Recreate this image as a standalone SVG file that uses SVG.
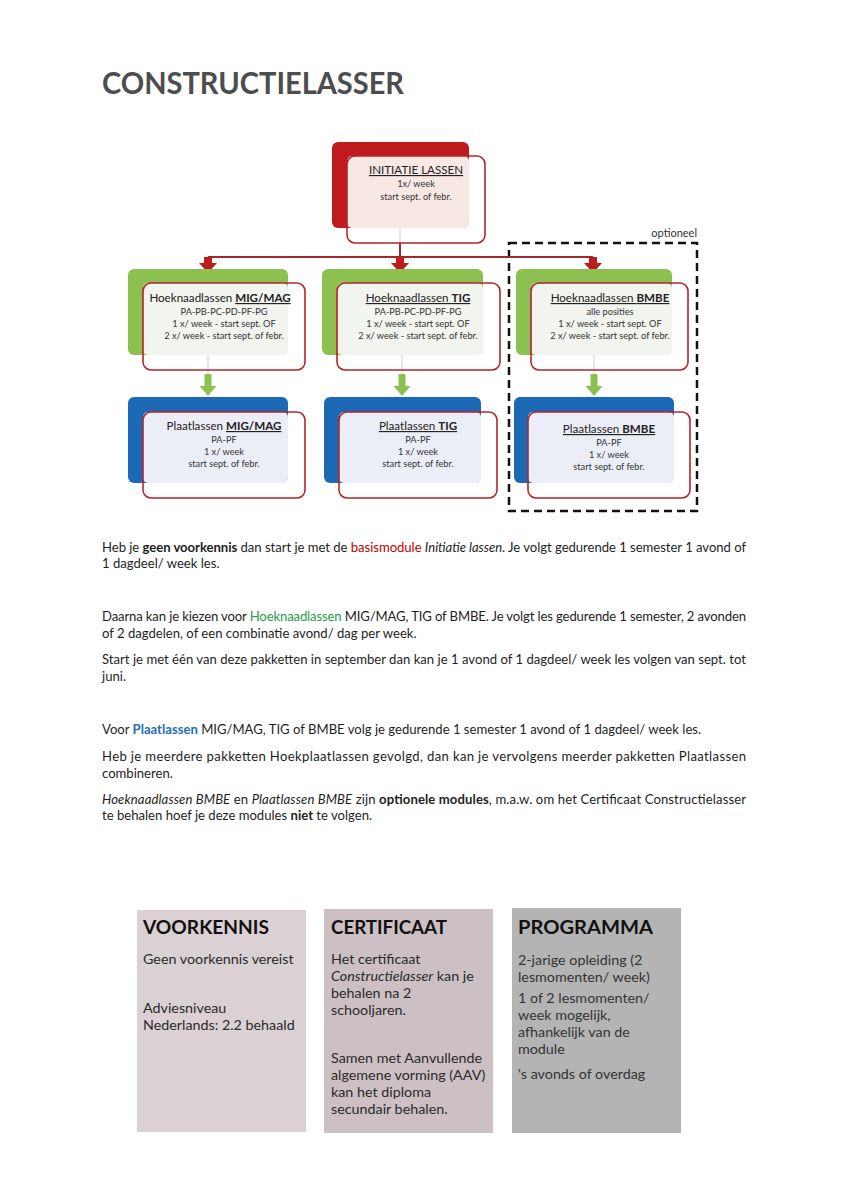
<svg xmlns="http://www.w3.org/2000/svg" width="848" height="1200" viewBox="0 0 848 1200">
<defs>
<style>
text{font-family:Lato,"Liberation Sans",sans-serif}
.title{font-size:31px;font-weight:700;fill:#4b4e4f}
.bt{font-size:11.6px;fill:#222;text-anchor:middle}
.bs{font-size:9.2px;fill:#333;text-anchor:middle}
.u{text-decoration:underline}
.b{font-weight:700}
.i{font-style:italic}
.p{font-size:13.1px;fill:#1e1e1e}
.hd{font-size:19.5px;font-weight:700;fill:#111}
.bx{font-size:14.3px;fill:#2a2a2a}
.bx3{font-size:14.3px;fill:#333}
.red{fill:#bf1b1f}
.green{fill:#8cc152}
.blue{fill:#1c68b4}
.pink{fill:#f8e8e4}
.lgreen{fill:#f2f4ef}
.lblue{fill:#eceef7}
.frame{fill:none;stroke:#b3262a;stroke-width:1.6}
.thin{stroke:#cfcfcf;stroke-width:1;fill:none}
.conn{stroke:#a3282b;stroke-width:2;fill:none}
</style>
</defs>
<rect x="0" y="0" width="848" height="1200" fill="#ffffff"/>

<text x="102" y="94" class="title" textLength="302" lengthAdjust="spacingAndGlyphs">CONSTRUCTIELASSER</text>

<g id="optioneel">
<rect x="509" y="243" width="188" height="268" fill="none" stroke="#111" stroke-width="2.5" stroke-dasharray="8 5"/>
<text x="697" y="237" font-size="11" fill="#333" text-anchor="end">optioneel</text>
</g>

<g id="connectors">
<line x1="400" y1="227" x2="400" y2="243" class="thin"/>
<line x1="400" y1="243" x2="400" y2="257" class="conn"/>
<line x1="208" y1="257" x2="593" y2="257" class="conn"/>
<path class="red" d="M204 257H212V263H217L208 273L199 263H204Z"/>
<path class="red" d="M396 257H404V263H409L400 273L391 263H396Z"/>
<path class="red" d="M589 257H597V263H602L593 273L584 263H589Z"/>
<line x1="208" y1="355" x2="208" y2="374" class="thin"/>
<line x1="402" y1="355" x2="402" y2="374" class="thin"/>
<line x1="594" y1="355" x2="594" y2="374" class="thin"/>
<path class="green" d="M204.5 374H211.5V386H216.5L208 396L199.5 386H204.5Z"/>
<path class="green" d="M398.5 374H405.5V386H410.5L402 396L393.5 386H398.5Z"/>
<path class="green" d="M590.5 374H597.5V386H602.5L594 396L585.5 386H590.5Z"/>
</g>

<g id="initiatie">
<rect x="332" y="142" width="137" height="86" rx="6" class="red"/>
<rect x="347" y="156" width="122" height="72" rx="5" class="pink"/>
<rect x="347" y="156" width="138" height="87" rx="8" class="frame"/>
<text x="416" y="174" class="bt u" font-size="10.2">INITIATIE LASSEN</text>
<text x="416" y="187" class="bs">1x/ week</text>
<text x="416" y="200" class="bs">start sept. of febr.</text>
</g>

<g id="hoek-migmag">
<rect x="128" y="269" width="160" height="86" rx="6" class="green"/>
<rect x="143" y="283" width="145" height="72" rx="5" class="lgreen"/>
<rect x="143" y="283" width="162" height="87" rx="8" class="frame"/>
<text x="220" y="302" class="bt">Hoeknaadlassen <tspan class="b u">MIG/MAG</tspan></text>
<text x="224" y="315" class="bs">PA-PB-PC-PD-PF-PG</text>
<text x="224" y="327" class="bs">1 x/ week - start sept. OF</text>
<text x="224" y="339" class="bs">2 x/ week - start sept. of febr.</text>
</g>

<g id="hoek-tig">
<rect x="322" y="269" width="161" height="86" rx="6" class="green"/>
<rect x="337" y="283" width="146" height="72" rx="5" class="lgreen"/>
<rect x="337" y="283" width="163" height="87" rx="8" class="frame"/>
<text x="418" y="302" class="bt u">Hoeknaadlassen <tspan class="b">TIG</tspan></text>
<text x="418" y="315" class="bs">PA-PB-PC-PD-PF-PG</text>
<text x="418" y="327" class="bs">1 x/ week - start sept. OF</text>
<text x="418" y="339" class="bs">2 x/ week - start sept. of febr.</text>
</g>

<g id="hoek-bmbe">
<rect x="516" y="269" width="156" height="86" rx="6" class="green"/>
<rect x="531" y="283" width="141" height="72" rx="5" class="lgreen"/>
<rect x="531" y="283" width="157" height="87" rx="8" class="frame"/>
<text x="610" y="302" class="bt u">Hoeknaadlassen <tspan class="b">BMBE</tspan></text>
<text x="610" y="315" class="bs">alle posities</text>
<text x="610" y="327" class="bs">1 x/ week - start sept. OF</text>
<text x="610" y="339" class="bs">2 x/ week - start sept. of febr.</text>
</g>

<g id="plaat-migmag">
<rect x="128" y="397" width="160" height="86" rx="6" class="blue"/>
<rect x="143" y="412" width="145" height="71" rx="5" class="lblue"/>
<rect x="143" y="412" width="162" height="86" rx="8" class="frame"/>
<text x="224" y="430" class="bt">Plaatlassen <tspan class="b u">MIG/MAG</tspan></text>
<text x="224" y="443" class="bs">PA-PF</text>
<text x="224" y="455" class="bs">1 x/ week</text>
<text x="224" y="467" class="bs">start sept. of febr.</text>
</g>

<g id="plaat-tig">
<rect x="324" y="397" width="157" height="86" rx="6" class="blue"/>
<rect x="339" y="412" width="142" height="71" rx="5" class="lblue"/>
<rect x="339" y="412" width="158" height="86" rx="8" class="frame"/>
<text x="418" y="430" class="bt u">Plaatlassen <tspan class="b">TIG</tspan></text>
<text x="418" y="443" class="bs">PA-PF</text>
<text x="418" y="455" class="bs">1 x/ week</text>
<text x="418" y="467" class="bs">start sept. of febr.</text>
</g>

<g id="plaat-bmbe">
<rect x="514" y="397" width="160" height="86" rx="6" class="blue"/>
<rect x="528" y="412" width="146" height="71" rx="5" class="lblue"/>
<rect x="528" y="412" width="162" height="86" rx="8" class="frame"/>
<text x="609" y="433" class="bt u">Plaatlassen <tspan class="b">BMBE</tspan></text>
<text x="609" y="446" class="bs">PA-PF</text>
<text x="609" y="458" class="bs">1 x/ week</text>
<text x="609" y="470" class="bs">start sept. of febr.</text>
</g>

<g id="tekst">
<text x="102" y="552" class="p" textLength="644" lengthAdjust="spacing">Heb je <tspan class="b">geen voorkennis</tspan> dan start je met de <tspan fill="#c00000">basismodule</tspan> <tspan class="i">Initiatie lassen</tspan>. Je volgt gedurende 1 semester 1 avond of</text>
<text x="102" y="568" class="p">1 dagdeel/ week les.</text>
<text x="102" y="621" class="p" textLength="644" lengthAdjust="spacing">Daarna kan je kiezen voor <tspan fill="#1f9e47">Hoeknaadlassen</tspan> MIG/MAG, TIG of BMBE. Je volgt les gedurende 1 semester, 2 avonden</text>
<text x="102" y="638" class="p">of 2 dagdelen, of een combinatie avond/ dag per week.</text>
<text x="102" y="664" class="p" textLength="644" lengthAdjust="spacing">Start je met één van deze pakketten in september dan kan je 1 avond of 1 dagdeel/ week les volgen van sept. tot</text>
<text x="102" y="681" class="p">juni.</text>
<text x="102" y="734" class="p">Voor <tspan fill="#1f6fb5" class="b">Plaatlassen</tspan> MIG/MAG, TIG of BMBE volg je gedurende 1 semester 1 avond of 1 dagdeel/ week les.</text>
<text x="102" y="761" class="p" textLength="644" lengthAdjust="spacing">Heb je meerdere pakketten Hoekplaatlassen gevolgd, dan kan je vervolgens meerder pakketten Plaatlassen</text>
<text x="102" y="778" class="p">combineren.</text>
<text x="102" y="804" class="p" textLength="644" lengthAdjust="spacing"><tspan class="i">Hoeknaadlassen BMBE</tspan> en <tspan class="i">Plaatlassen BMBE</tspan> zijn <tspan class="b">optionele modules</tspan>, m.a.w. om het Certificaat Constructielasser</text>
<text x="102" y="820" class="p">te behalen hoef je deze modules <tspan class="b">niet</tspan> te volgen.</text>
</g>

<g id="voorkennis">
<rect x="137" y="910" width="169" height="222" fill="#dbd0d4"/>
<text x="143" y="934" class="hd" textLength="126" lengthAdjust="spacingAndGlyphs">VOORKENNIS</text>
<text x="143" y="964" class="bx">Geen voorkennis vereist</text>
<text x="143" y="1013" class="bx">Adviesniveau</text>
<text x="143" y="1030" class="bx">Nederlands: 2.2 behaald</text>
</g>

<g id="certificaat">
<rect x="324" y="909" width="169" height="224" fill="#ccc0c4"/>
<text x="331" y="934" class="hd" textLength="116" lengthAdjust="spacingAndGlyphs">CERTIFICAAT</text>
<text x="331" y="964" class="bx">Het certificaat</text>
<text x="331" y="981" class="bx"><tspan class="i">Constructielasser</tspan> kan je</text>
<text x="331" y="998" class="bx">behalen na 2</text>
<text x="331" y="1015" class="bx">schooljaren.</text>
<text x="331" y="1063" class="bx">Samen met Aanvullende</text>
<text x="331" y="1080" class="bx">algemene vorming (AAV)</text>
<text x="331" y="1097" class="bx">kan het diploma</text>
<text x="331" y="1114" class="bx">secundair behalen.</text>
</g>

<g id="programma">
<rect x="512" y="908" width="169" height="225" fill="#b5b4b5"/>
<text x="518" y="934" class="hd" textLength="135" lengthAdjust="spacingAndGlyphs">PROGRAMMA</text>
<text x="518" y="965" class="bx3">2-jarige opleiding (2</text>
<text x="518" y="982" class="bx3">lesmomenten/ week)</text>
<text x="518" y="1003" class="bx3">1 of 2 lesmomenten/</text>
<text x="518" y="1020" class="bx3">week mogelijk,</text>
<text x="518" y="1037" class="bx3">afhankelijk van de</text>
<text x="518" y="1054" class="bx3">module</text>
<text x="518" y="1079" class="bx3">'s avonds of overdag</text>
</g>
</svg>
